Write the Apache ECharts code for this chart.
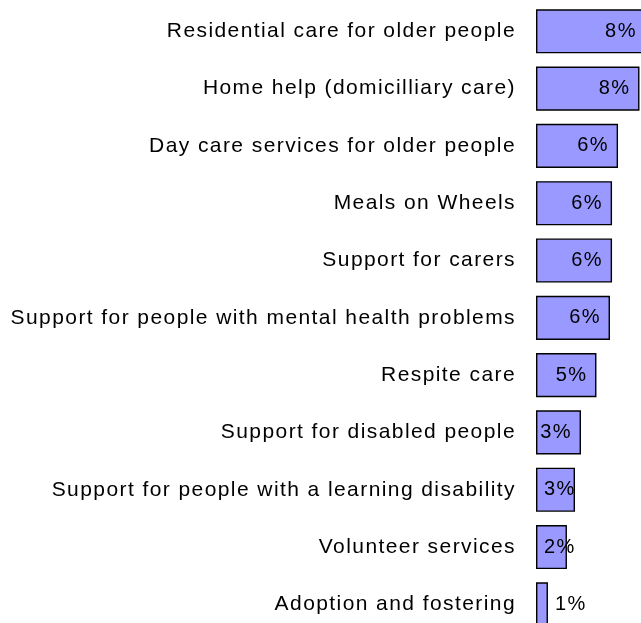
<!DOCTYPE html>
<html>
<head>
<meta charset="utf-8">
<script src="https://cdn.jsdelivr.net/npm/echarts@6/dist/echarts.min.js"></script>
<style>
  html, body { margin: 0; padding: 0; background: #ffffff; overflow: hidden; }
  /* the last row runs a little past the bottom edge of the window */
  #chart { width: 641px; height: 633px; }
</style>
</head>
<body>
<div id="chart"></div>
<script>
// Share of respondents naming each service (percent)
const categories = [
  'Residential care for older people',
  'Home help (domicilliary care)',
  'Day care services for older people',
  'Meals on Wheels',
  'Support for carers',
  'Support for people with mental health problems',
  'Respite care',
  'Support for disabled people',
  'Support for people with a learning disability',
  'Volunteer services',
  'Adoption and fostering'
];
const shares = [8.45, 7.96, 6.31, 5.85, 5.85, 5.69, 4.65, 3.46, 3.0, 2.38, 0.92];

const FONT = '"Liberation Sans", Arial, sans-serif';
const CAT_FONT_SIZE = 21;

// Looser tracking for the category names (only text set at CAT_FONT_SIZE).
(function () {
  const proto = CanvasRenderingContext2D.prototype;
  const origFill = proto.fillText;
  proto.fillText = function (text, x, y, maxW) {
    const wide = this.font && this.font.indexOf(CAT_FONT_SIZE + 'px') !== -1;
    const prev = this.letterSpacing;
    if (wide && 'letterSpacing' in this) this.letterSpacing = '1.42px';
    const r = maxW === undefined ? origFill.call(this, text, x, y) : origFill.call(this, text, x, y, maxW);
    if (wide && 'letterSpacing' in this) this.letterSpacing = prev;
    return r;
  };
})();

// Wide bars carry their label at the inner end, narrow ones at the start,
// and the tiniest one outside.
function labelFor(v) {
  if (v >= 3.4) return { position: 'insideRight', distance: 9 };
  if (v >= 1.5) return { position: 'insideLeft', distance: 8 };
  return { position: 'right', distance: 7 };
}

const chart = echarts.init(document.getElementById('chart'), null, { renderer: 'canvas' });

chart.setOption({
  animation: false,
  grid: { left: 536, right: 0, top: 2.65, bottom: 0, containLabel: false },
  xAxis: {
    type: 'value',
    min: 0,
    max: 105 / 13,
    show: false
  },
  yAxis: {
    type: 'category',
    data: categories,
    inverse: true,
    axisLine: { show: false },
    axisTick: { show: false },
    splitLine: { show: false },
    axisLabel: {
      margin: 20,
      fontFamily: FONT,
      fontSize: CAT_FONT_SIZE,
      color: '#000000'
    }
  },
  series: [{
    type: 'bar',
    barCategoryGap: '23%',
    clip: false,
    data: shares.map(v => ({ value: v, label: labelFor(v) })),
    itemStyle: {
      color: '#9999ff',
      borderColor: '#000000',
      borderWidth: 1.4
    },
    label: {
      show: true,
      fontFamily: FONT,
      fontSize: 20,
      color: '#000000',
      formatter: p => Math.round(p.value) + '%'
    }
  }]
});
</script>
</body>
</html>
